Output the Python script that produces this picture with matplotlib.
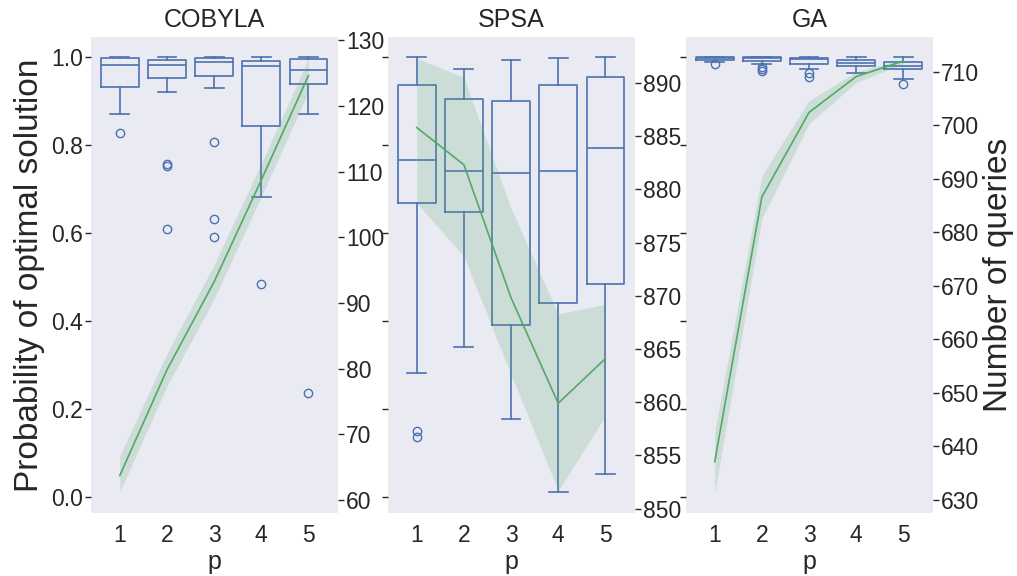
import matplotlib.pyplot as plt

plt.rcParams["font.family"] = ["Liberation Sans", "DejaVu Sans"]
plt.rcParams["text.color"] = ".15"
plt.rcParams["axes.labelcolor"] = ".15"
plt.rcParams["xtick.color"] = ".15"
plt.rcParams["ytick.color"] = ".15"

p_values = [1, 2, 3, 4, 5]
optimizers = ["COBYLA", "SPSA", "GA"]

# probability of optimal solution: box summaries per p
cobyla_whislo = [0.871, 0.920, 0.930, 0.681, 0.870]
cobyla_q1 = [0.932, 0.951, 0.957, 0.843, 0.938]
cobyla_med = [0.982, 0.981, 0.988, 0.980, 0.970]
cobyla_q3 = [0.997, 0.993, 0.997, 0.991, 0.995]
cobyla_whishi = [1.0, 1.0, 1.0, 1.0, 1.0]
cobyla_fliers = [[0.827], [0.757, 0.752, 0.608], [0.806, 0.632, 0.591], [0.484], [0.236]]

spsa_whislo = [0.283, 0.342, 0.177, 0.011, 0.052]
spsa_q1 = [0.667, 0.647, 0.391, 0.440, 0.485]
spsa_med = [0.765, 0.741, 0.736, 0.740, 0.792]
spsa_q3 = [0.936, 0.905, 0.900, 0.936, 0.955]
spsa_whishi = [0.999, 0.973, 0.992, 0.998, 0.999]
spsa_fliers = [[0.151, 0.136], [], [], [], []]

ga_whislo = [0.989, 0.984, 0.973, 0.964, 0.950]
ga_q1 = [0.992, 0.991, 0.984, 0.980, 0.972]
ga_med = [0.998, 0.997, 0.994, 0.987, 0.980]
ga_q3 = [0.999, 0.999, 0.997, 0.992, 0.989]
ga_whishi = [1.0, 1.0, 1.0, 0.999, 1.0]
ga_fliers = [[0.983], [0.977, 0.972, 0.968], [0.963, 0.955], [], [0.938]]

# number of queries: mean and confidence band per p
cobyla_queries = [63.7, 79.8, 93.2, 108.7, 124.6]
cobyla_queries_lo = [61.2, 77.3, 90.6, 106.2, 122.1]
cobyla_queries_hi = [66.7, 82.3, 95.8, 111.2, 127.2]

spsa_queries = [885.8, 882.3, 869.8, 859.9, 864.1]
spsa_queries_lo = [878.7, 873.7, 862.6, 851.7, 858.7]
spsa_queries_hi = [892.3, 890.5, 878.2, 868.3, 869.2]

ga_queries = [637.1, 686.6, 702.4, 709.1, 712.0]
ga_queries_lo = [631.2, 682.6, 700.3, 708.0, 711.5]
ga_queries_hi = [642.7, 690.6, 704.6, 710.0, 712.4]

box_data = [
    (cobyla_whislo, cobyla_q1, cobyla_med, cobyla_q3, cobyla_whishi, cobyla_fliers),
    (spsa_whislo, spsa_q1, spsa_med, spsa_q3, spsa_whishi, spsa_fliers),
    (ga_whislo, ga_q1, ga_med, ga_q3, ga_whishi, ga_fliers),
]
line_data = [
    (cobyla_queries, cobyla_queries_lo, cobyla_queries_hi),
    (spsa_queries, spsa_queries_lo, spsa_queries_hi),
    (ga_queries, ga_queries_lo, ga_queries_hi),
]
query_ticks = [range(60, 131, 10), range(850, 891, 5), range(630, 711, 10)]
query_lims = [(58.0, 130.5), (849.6, 894.3), (627.5, 716.5)]

BLUE = "#4C72B0"
GREEN = "#55A868"
BG = "#EAEAF2"

fig = plt.figure(figsize=(10.17, 5.76), dpi=100)
lefts = [0.0895, 0.3815, 0.6745]
width, bottom, height = 0.2425, 0.1094, 0.8264

first_ax = None
for i, name in enumerate(optimizers):
    ax = fig.add_axes([lefts[i], bottom, width, height], sharey=first_ax)
    if first_ax is None:
        first_ax = ax
    ax.set_facecolor(BG)

    whislo, q1, med, q3, whishi, fliers = box_data[i]
    stats = [
        dict(whislo=whislo[k], q1=q1[k], med=med[k], q3=q3[k], whishi=whishi[k], fliers=fliers[k])
        for k in range(len(p_values))
    ]
    line_kw = dict(color=BLUE, linewidth=1.2)
    ax.bxp(
        stats,
        positions=p_values,
        widths=0.8,
        boxprops=line_kw,
        whiskerprops=line_kw,
        capprops=line_kw,
        medianprops=line_kw,
        flierprops=dict(marker="o", markerfacecolor="none", markeredgecolor=BLUE,
                        markersize=6, markeredgewidth=1.0),
    )
    ax.set_xlim(0.39, 5.62)
    ax.set_ylim(-0.036, 1.045)
    ax.set_xticks(p_values)
    ax.set_xticklabels([str(p) for p in p_values])
    ax.set_yticks([0.0, 0.2, 0.4, 0.6, 0.8, 1.0])
    ax.tick_params(axis="x", length=0, pad=8, labelsize=16.5)
    ax.tick_params(axis="y", length=4, width=1, pad=2, labelsize=16.5, labelleft=(i == 0))
    ax.set_xlabel("p", fontsize=18, labelpad=2)
    ax.set_title(name, fontsize=18, pad=7)
    if i == 0:
        ax.set_ylabel("Probability of optimal solution", fontsize=24, labelpad=4)

    # queries on a secondary axis
    mean, lo, hi = line_data[i]
    tw = ax.twinx()
    tw.fill_between(p_values, lo, hi, color=GREEN, alpha=0.2, linewidth=0)
    tw.plot(p_values, mean, color=GREEN, linewidth=1.2)
    tw.set_ylim(*query_lims[i])
    tw.set_yticks(list(query_ticks[i]))
    tw.tick_params(axis="y", length=4, width=1, pad=2, labelsize=16.5)
    if i == 2:
        tw.set_ylabel("Number of queries", fontsize=24, labelpad=3)

    for a in (ax, tw):
        for spine in a.spines.values():
            spine.set_visible(False)

fig.savefig("out.png", dpi=100)
